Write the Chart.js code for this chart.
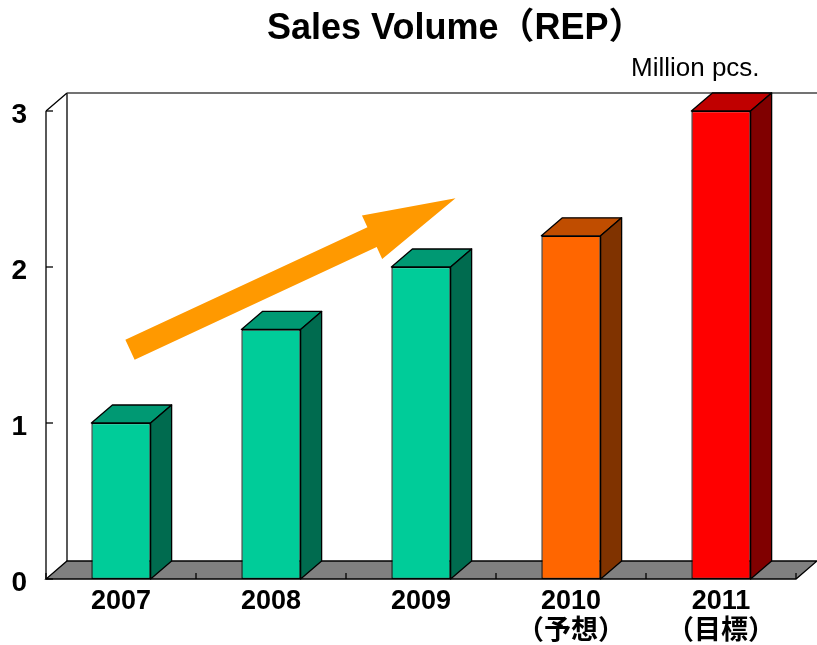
<!DOCTYPE html>
<html>
<head>
<meta charset="utf-8">
<script src="https://cdn.jsdelivr.net/npm/chart.js@4"></script>
<style>
html,body{margin:0;padding:0;background:#fff;}
#wrap{position:relative;width:817px;height:645px;}
</style>
</head>
<body>
<div id="wrap"><canvas id="c"></canvas></div>
<script>
// ---- data ----
const categories = [['2007'], ['2008'], ['2009'], ['2010', '（予想）'], ['2011', '（目標）']];
const salesVolume = [1.0, 1.6, 2.0, 2.2, 3.0];
const yTicks = [0, 1, 2, 3];
const chartTitle = 'Sales Volume（REP）';
const unitLabel = 'Million pcs.';
// trend arrow, in (category index, value) units
const arrowFrom = [0.06, 1.47];
const arrowTo = [2.23, 2.44];

// ---- styles ----
const frontColors = ['#00CC99', '#00CC99', '#00CC99', '#FF6600', '#FF0000'];
const topColors = ['#009973', '#009973', '#009973', '#C04D00', '#C00000'];
const sideColors = ['#006B4F', '#006B4F', '#006B4F', '#803300', '#800000'];
const DX = 21, DY = 18;
const labelFont = '"Liberation Sans", "Noto Sans CJK JP", sans-serif';

const threeD = {
  id: 'threeD',
  beforeDatasetsDraw(chart) {
    const ctx = chart.ctx;
    const x = chart.scales.x, y = chart.scales.y;
    const L = chart.chartArea.left, R = chart.chartArea.right;
    const B = y.getPixelForValue(0), T = y.getPixelForValue(3);
    ctx.save();
    ctx.lineWidth = 1.3;
    ctx.strokeStyle = '#000';
    // floor
    ctx.fillStyle = '#808080';
    ctx.beginPath();
    ctx.moveTo(L, B); ctx.lineTo(R, B); ctx.lineTo(R + DX, B - DY); ctx.lineTo(L + DX, B - DY); ctx.closePath();
    ctx.fill(); ctx.stroke();
    // back wall edges
    ctx.beginPath();
    ctx.moveTo(L + DX, B - DY); ctx.lineTo(L + DX, T - DY);
    ctx.stroke();
    ctx.strokeStyle = '#444';
    ctx.beginPath();
    ctx.moveTo(L + DX, T - DY); ctx.lineTo(R + DX + 5, T - DY);
    ctx.stroke();
    ctx.strokeStyle = '#000';
    ctx.beginPath();
    ctx.moveTo(L, T); ctx.lineTo(L + DX, T - DY);
    ctx.moveTo(L, T); ctx.lineTo(L, B);
    ctx.stroke();
    // value ticks
    yTicks.forEach(v => {
      const py = y.getPixelForValue(v);
      ctx.beginPath(); ctx.moveTo(L, py); ctx.lineTo(L + 7, py); ctx.stroke();
    });
    // category boundary ticks on floor
    for (let i = 0; i <= categories.length; i++) {
      const px = x.getPixelForValue(i - 0.5);
      ctx.beginPath(); ctx.moveTo(px, B); ctx.lineTo(px, B - 6); ctx.stroke();
    }
    ctx.restore();
  },
  afterDatasetsDraw(chart) {
    const ctx = chart.ctx;
    const meta = chart.getDatasetMeta(0);
    ctx.save();
    ctx.lineWidth = 1.3;
    ctx.strokeStyle = '#000';
    ctx.lineJoin = 'round';
    meta.data.forEach((bar, i) => {
      const p = bar.getProps(['x', 'y', 'base', 'width']);
      const l = p.x - p.width / 2, r = p.x + p.width / 2, t = p.y, b = p.base;
      // top face
      ctx.fillStyle = topColors[i];
      ctx.beginPath();
      ctx.moveTo(l, t); ctx.lineTo(l + DX, t - DY); ctx.lineTo(r + DX, t - DY); ctx.lineTo(r, t); ctx.closePath();
      ctx.fill(); ctx.stroke();
      // side face
      ctx.fillStyle = sideColors[i];
      ctx.beginPath();
      ctx.moveTo(r, t); ctx.lineTo(r + DX, t - DY); ctx.lineTo(r + DX, b - DY); ctx.lineTo(r, b); ctx.closePath();
      ctx.fill(); ctx.stroke();
    });
    ctx.restore();
  },
  afterDraw(chart) {
    const ctx = chart.ctx;
    const x = chart.scales.x, y = chart.scales.y;
    // arrow
    const x0 = x.getPixelForValue(arrowFrom[0]), y0 = y.getPixelForValue(arrowFrom[1]);
    const x1 = x.getPixelForValue(arrowTo[0]), y1 = y.getPixelForValue(arrowTo[1]);
    const len = Math.hypot(x1 - x0, y1 - y0);
    const ang = Math.atan2(y1 - y0, x1 - x0);
    const sw = 11, hw = 24, hl = 92;
    ctx.save();
    ctx.translate(x0, y0); ctx.rotate(ang);
    ctx.fillStyle = '#FF9900';
    ctx.beginPath();
    ctx.moveTo(0, -sw); ctx.lineTo(len - hl, -sw); ctx.lineTo(len - hl, -hw);
    ctx.lineTo(len, 0);
    ctx.lineTo(len - hl, hw); ctx.lineTo(len - hl, sw); ctx.lineTo(0, sw); ctx.closePath();
    ctx.fill();
    ctx.restore();
    // title and unit
    ctx.save();
    ctx.fillStyle = '#000';
    ctx.textAlign = 'left';
    ctx.textBaseline = 'alphabetic';
    ctx.font = 'bold 36px ' + labelFont;
    ctx.fillText(chartTitle, 267, 39);
    ctx.font = '26px ' + labelFont;
    ctx.fillText(unitLabel, 631, 76);
    ctx.restore();
  }
};

new Chart(document.getElementById('c'), {
  type: 'bar',
  data: {
    labels: categories,
    datasets: [{
      data: salesVolume,
      backgroundColor: frontColors,
      borderColor: '#000',
      borderWidth: 1.3,
      borderSkipped: false,
      barPercentage: 0.395,
      categoryPercentage: 1.0
    }]
  },
  options: {
    responsive: true,
    maintainAspectRatio: false,
    animation: false,
    devicePixelRatio: 1,
    layout: { padding: { left: 0, right: 21, top: 111, bottom: 0 } },
    plugins: { legend: { display: false }, tooltip: { enabled: false }, title: { display: false } },
    scales: {
      x: {
        grid: { display: false, drawTicks: false },
        border: { display: false },
        ticks: { color: '#000', font: { family: labelFont, size: 27, weight: 'bold', lineHeight: 1.1 }, padding: 8, maxRotation: 0, autoSkip: false },
        afterFit(s) { s.height = 66; }
      },
      y: {
        min: 0, max: 3,
        grid: { display: false, drawTicks: false },
        border: { display: false },
        afterBuildTicks(s) { s.ticks = yTicks.map(v => ({ value: v })); },
        ticks: { color: '#000', font: { family: labelFont, size: 28, weight: 'bold' }, padding: 19, labelOffset: 4 },
        afterFit(s) { s.width = 46; }
      }
    }
  },
  plugins: [threeD]
});
</script>
</body>
</html>
